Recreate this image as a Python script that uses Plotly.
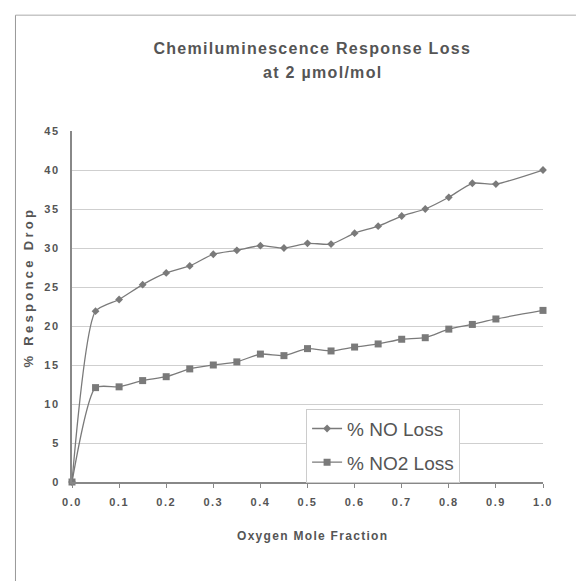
import plotly.graph_objects as go

oxygen = [0.0, 0.05, 0.1, 0.15, 0.2, 0.25, 0.3, 0.35, 0.4, 0.45, 0.5, 0.55, 0.6, 0.65, 0.7, 0.75, 0.8, 0.85, 0.9, 1.0]
no_loss = [0.0, 21.9, 23.4, 25.3, 26.8, 27.7, 29.2, 29.7, 30.3, 30.0, 30.6, 30.5, 31.9, 32.8, 34.1, 35.0, 36.5, 38.3, 38.2, 40.0]
no2_loss = [0.0, 12.1, 12.2, 13.0, 13.5, 14.5, 15.0, 15.4, 16.4, 16.2, 17.1, 16.8, 17.3, 17.7, 18.3, 18.5, 19.6, 20.2, 20.9, 22.0]
x_ticks = [0.0, 0.1, 0.2, 0.3, 0.4, 0.5, 0.6, 0.7, 0.8, 0.9, 1.0]
x_tick_labels = ["0.0", "0.1", "0.2", "0.3", "0.4", "0.5", "0.6", "0.7", "0.8", "0.9", "1.0"]
y_ticks = [0, 5, 10, 15, 20, 25, 30, 35, 40, 45]
y_tick_labels = ["0", "5", "10", "15", "20", "25", "30", "35", "40", "45"]
title_line1 = "Chemiluminescence Response Loss"
title_line2 = "at 2 µmol/mol"
x_title = "Oxygen Mole Fraction"
y_title = "% Responce Drop"

FONT = "Liberation Sans, Arial, sans-serif"
GREY = "#7a7a7a"
TXT = "#555555"


def spaced(s, px):
    return f'<span style="letter-spacing:{px}px">{s}</span>'


fig = go.Figure()
fig.add_trace(go.Scatter(
    x=oxygen, y=no_loss, name="% NO Loss", mode="lines+markers",
    line=dict(color=GREY, width=1.3, shape="spline", smoothing=0.6),
    marker=dict(symbol="diamond", size=6, color=GREY),
    cliponaxis=False, legendgroup="a",
))
fig.add_trace(go.Scatter(
    x=oxygen, y=no2_loss, name="% NO2 Loss", mode="lines+markers",
    line=dict(color=GREY, width=1.3, shape="spline", smoothing=0.6),
    marker=dict(symbol="square", size=7, color=GREY),
    cliponaxis=False, legendgroup="b",
))

title_font = dict(family=FONT, size=16, color=TXT, weight="bold")

fig.update_layout(
    width=587, height=581,
    margin=dict(l=72, r=44, t=131, b=99),
    paper_bgcolor="white", plot_bgcolor="white",
    font=dict(family=FONT, color=TXT),
    title=dict(
        text=spaced(title_line1, 1.3),
        x=0.532, xanchor="center", y=1 - 48 / 581, yanchor="middle",
        font=title_font,
    ),
    showlegend=True,
    legend=dict(
        x=0.497, xanchor="left", y=0.209, yanchor="top",
        bgcolor="white", bordercolor="#cccccc", borderwidth=1,
        font=dict(family=FONT, size=19, color=TXT),
        tracegroupgap=6, itemwidth=30,
    ),
    xaxis=dict(
        range=[0, 1], tickvals=x_ticks, ticktext=[spaced(t, 1.5) for t in x_tick_labels],
        showgrid=False, zeroline=False,
        showline=True, linecolor="#888888", linewidth=1.5,
        ticks="outside", ticklen=4, tickcolor="#888888", ticklabelstandoff=5,
        tickfont=dict(family=FONT, size=11, color=TXT, weight="bold"),
    ),
    yaxis=dict(
        range=[0, 45], tickvals=y_ticks, ticktext=[spaced(t, 1.8) for t in y_tick_labels],
        showgrid=True, gridcolor="#cfcfcf", gridwidth=1, zeroline=False,
        showline=True, linecolor="#888888", linewidth=1.5,
        ticks="", ticklen=0, ticklabelstandoff=8,
        tickfont=dict(family=FONT, size=11, color=TXT, weight="bold"),
    ),
)

# second title line
fig.add_annotation(xref="paper", yref="paper", x=0.532, y=(482 - 72) / 351,
                   xanchor="center", yanchor="middle", showarrow=False,
                   text=spaced(title_line2, 1.3), font=title_font)
# x-axis title
fig.add_annotation(xref="paper", yref="paper", x=(313 - 72.5) / 470.5, y=(482 - 536) / 351,
                   xanchor="center", yanchor="middle", showarrow=False,
                   text=spaced(x_title, 1.3),
                   font=dict(family=FONT, size=12, color=TXT, weight="bold"))
# y-axis title
fig.add_annotation(xref="paper", yref="paper", x=(29 - 72.5) / 470.5, y=(482 - 287) / 351,
                   xanchor="center", yanchor="middle", showarrow=False, textangle=-90,
                   text=spaced(y_title, 3.3),
                   font=dict(family=FONT, size=13, color=TXT, weight="bold"))

# outer frame (left and top edges of the chart area)
fig.add_shape(type="line", xref="paper", yref="paper",
              x0=-0.12, x1=-0.12, y0=1.33, y1=-0.30,
              line=dict(color="#999999", width=1))
fig.add_shape(type="line", xref="paper", yref="paper",
              x0=-0.12, x1=1.07, y0=1.33, y1=1.33,
              line=dict(color="#aaaaaa", width=1))

fig.write_html("out.html")
